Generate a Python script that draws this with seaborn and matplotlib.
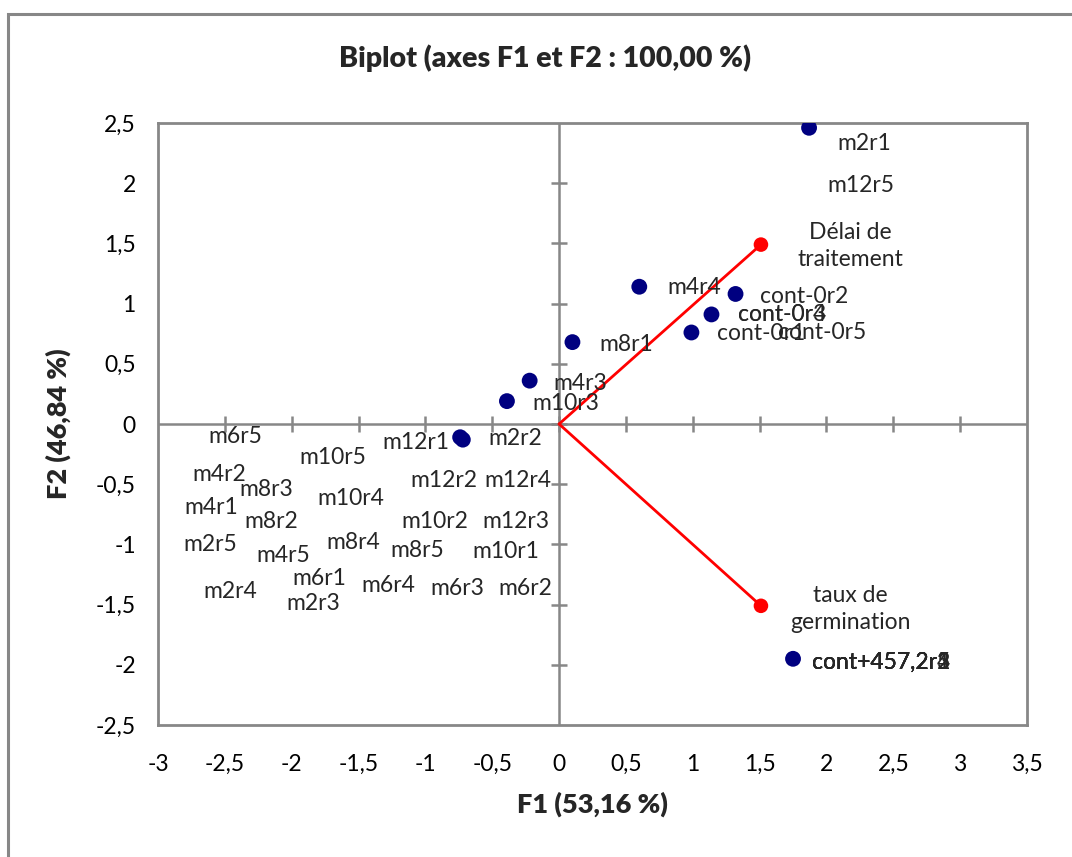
import matplotlib
matplotlib.use("Agg")
import matplotlib.pyplot as plt
import seaborn as sns
import pandas as pd
from matplotlib.patches import Rectangle

# observations (blue points)
obs_x = [1.87, 0.60, 1.32, 1.14, 0.99, 0.10, -0.22, -0.39, -0.74, -0.72, 1.75]
obs_y = [2.46, 1.14, 1.08, 0.91, 0.76, 0.68, 0.36, 0.19, -0.11, -0.13, -1.95]

# variables (red vectors)
var_names = ["Délai de\ntraitement", "taux de\ngermination"]
var_x = [1.51, 1.51]
var_y = [1.49, -1.51]
var_lab_x = [2.18, 2.18]
var_lab_y = [1.48, -1.54]

# observation labels, as placed on the chart
lab_names = ["m2r1", "m12r5", "m4r4", "cont-0r2", "cont-0r3", "cont-0r4",
             "cont-0r1", "cont-0r5", "m8r1", "m4r3", "m10r3", "m6r5",
             "m12r1", "m2r2", "m10r5", "m4r2", "m8r3", "m12r2", "m12r4",
             "m4r1", "m8r2", "m10r4", "m10r2", "m12r3", "m2r5", "m4r5",
             "m8r4", "m8r5", "m10r1", "m6r1", "m2r4", "m2r3", "m6r4",
             "m6r3", "m6r2", "cont+457,2r1", "cont+457,2r2", "cont+457,2r3",
             "cont+457,2r4", "cont+457,2r5"]
lab_x = [2.28, 2.26, 1.01, 1.83, 1.67, 1.67, 1.51, 1.97, 0.50, 0.16, 0.05,
         -2.42, -1.07, -0.33, -1.69, -2.54, -2.19, -0.86, -0.31, -2.60,
         -2.15, -1.56, -0.93, -0.32, -2.61, -2.06, -1.54, -1.06, -0.40,
         -1.79, -2.46, -1.84, -1.28, -0.76, -0.25, 2.41, 2.41, 2.41, 2.41, 2.41]
lab_y = [2.33, 1.98, 1.13, 1.06, 0.91, 0.91, 0.75, 0.76, 0.66, 0.34, 0.17,
         -0.10, -0.15, -0.12, -0.28, -0.42, -0.54, -0.47, -0.47, -0.69,
         -0.81, -0.62, -0.81, -0.81, -1.00, -1.09, -0.98, -1.05, -1.06,
         -1.28, -1.39, -1.49, -1.34, -1.37, -1.37, -1.98, -1.98, -1.98, -1.98, -1.98]

x_ticks = [-3, -2.5, -2, -1.5, -1, -0.5, 0, 0.5, 1, 1.5, 2, 2.5, 3, 3.5]
y_ticks = [-2.5, -2, -1.5, -1, -0.5, 0, 0.5, 1, 1.5, 2, 2.5]

sns.set_style("white")
plt.rcParams["font.family"] = ["Lato", "DejaVu Sans"]
grey = "#878787"

fig = plt.figure(figsize=(10.72, 8.57), dpi=100)
ax = fig.add_axes([0.1474, 0.154, 0.8106, 0.7025])

# outer chart border
fig.patches.append(Rectangle((8 / 1072, -0.1), 1.2, 1 - 14 / 857 + 0.1,
                             transform=fig.transFigure, fill=False,
                             edgecolor=grey, linewidth=2.2))

# centre axes with cross ticks
ax.axhline(0, color=grey, lw=1.8, zorder=1)
ax.axvline(0, color=grey, lw=1.8, zorder=1)
ax.plot(x_ticks[1:-1], [0] * len(x_ticks[1:-1]), ls="none", marker="|",
        ms=11, mew=1.8, color=grey, zorder=1)
ax.plot([0] * len(y_ticks[1:-1]), y_ticks[1:-1], ls="none", marker="_",
        ms=11, mew=1.8, color=grey, zorder=1)

# variable vectors
for vx, vy in zip(var_x, var_y):
    ax.plot([0, vx], [0, vy], color="red", lw=2, zorder=2)
sns.scatterplot(x=var_x, y=var_y, color="red", s=110, edgecolor="none",
                ax=ax, zorder=3)

sns.scatterplot(data=pd.DataFrame({"x": obs_x, "y": obs_y}), x="x", y="y",
                color="#000080", s=130, edgecolor="none", ax=ax, zorder=3)

for name, tx, ty in zip(lab_names, lab_x, lab_y):
    ax.text(tx, ty, name, ha="center", va="center", fontsize=16.5, zorder=4)
for name, tx, ty in zip(var_names, var_lab_x, var_lab_y):
    ax.text(tx, ty, name, ha="center", va="center", fontsize=16.5,
            linespacing=1.35, zorder=4)

ax.set_xlim(-3, 3.5)
ax.set_ylim(-2.5, 2.5)
ax.set_xticks(x_ticks)
ax.set_yticks(y_ticks)
ax.set_xticklabels([f"{t:g}".replace(".", ",") for t in x_ticks])
ax.set_yticklabels([f"{t:g}".replace(".", ",") for t in y_ticks])
ax.tick_params(length=0, labelsize=16.5, colors="black")
ax.tick_params(axis="x", pad=21)
ax.tick_params(axis="y", pad=16)
for sp in ax.spines.values():
    sp.set_color(grey)
    sp.set_linewidth(2)

ax.set_xlabel("F1 (53,16 %)", fontsize=19.5, fontweight="heavy", labelpad=12)
ax.set_ylabel("F2 (46,84 %)", fontsize=19.5, fontweight="heavy", labelpad=18)
fig.text(545 / 1072, 1 - 58 / 857, "Biplot (axes F1 et F2 : 100,00 %)",
         ha="center", va="center", fontsize=20.5, fontweight="heavy")

plt.savefig("out.png", dpi=100)
